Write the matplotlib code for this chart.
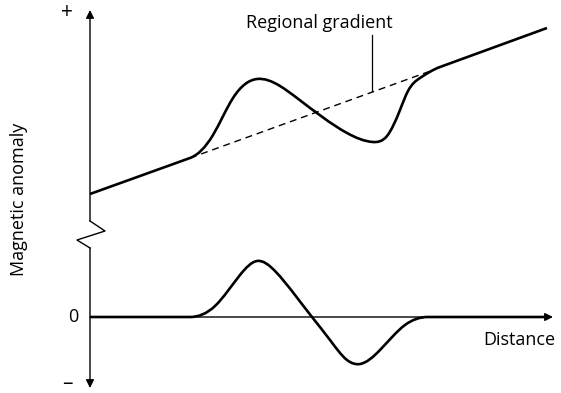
import numpy as np
import matplotlib
matplotlib.use("Agg")
import matplotlib.pyplot as plt
from matplotlib.path import Path
from matplotlib.patches import PathPatch

plt.rcParams['font.family'] = ['Open Sans', 'DejaVu Sans']

# observed field: regional trend plus a local anomaly (distance, anomaly)
obs_x = [0, 100, 123, 143, 167, 190, 207, 257, 283, 297, 310, 318, 330, 350, 457]
obs_y = [123, 159, 182, 219, 238, 231, 219, 184, 175, 181, 207, 226, 239, 250, 289]

# regional gradient (dashed) under the anomaly
reg_x = [100, 346]
reg_y = [159, 248]

# residual anomaly after removing the regional gradient
res_x = [0, 100, 125, 150, 167, 185, 205, 222, 240, 257, 270, 290, 315, 338, 463]
res_y = [0, 0, 11, 42, 56, 46, 22, 0, -23, -43, -47, -33, -8, 0, 0]

# vertical axis with a break
axis_top = 307
axis_bottom = -71
brk_x = [0, 15, -13, 0]
brk_y = [96, 86, 77, 69]


def spline_path(xs, ys, m0, m1):
    """Straight lead-in/out, clamped cubic spline (as bezier) in between."""
    x = np.asarray(xs, float)[1:-1]
    y = np.asarray(ys, float)[1:-1]
    n = len(x)
    h = np.diff(x)
    d = np.diff(y) / h
    A = np.zeros((n, n))
    b = np.zeros(n)
    A[0, 0] = A[-1, -1] = 1
    b[0], b[-1] = m0, m1
    for k in range(1, n - 1):
        A[k, k - 1] = h[k]
        A[k, k] = 2 * (h[k - 1] + h[k])
        A[k, k + 1] = h[k - 1]
        b[k] = 3 * (h[k] * d[k - 1] + h[k - 1] * d[k])
    m = np.linalg.solve(A, b)
    verts = [(xs[0], ys[0]), (x[0], y[0])]
    codes = [Path.MOVETO, Path.LINETO]
    for k in range(n - 1):
        verts += [(x[k] + h[k] / 3, y[k] + m[k] * h[k] / 3),
                  (x[k + 1] - h[k] / 3, y[k + 1] - m[k + 1] * h[k] / 3),
                  (x[k + 1], y[k + 1])]
        codes += [Path.CURVE4] * 3
    verts.append((xs[-1], ys[-1]))
    codes.append(Path.LINETO)
    return Path(verts, codes)


fig = plt.figure(figsize=(5.61, 3.93), dpi=100)
ax = fig.add_axes([0, 0, 1, 1])
ax.set_xlim(-90, 471)
ax.set_ylim(-76, 317)
ax.axis('off')

slope = (obs_y[-1] - obs_y[0]) / (obs_x[-1] - obs_x[0])

ax.add_patch(PathPatch(spline_path(obs_x, obs_y, slope, slope),
                       fill=False, lw=1.9, color='black',
                       joinstyle='round', capstyle='butt'))
ax.plot(reg_x, reg_y, color='black', lw=1.0, dashes=(5, 3.5))

# zero line with arrow
ax.annotate('', xy=(res_x[-1], 0), xytext=(0, 0),
            arrowprops=dict(arrowstyle='-|>', color='black', lw=1.0,
                            mutation_scale=12, shrinkA=0, shrinkB=0))
ax.add_patch(PathPatch(spline_path(res_x[:-1] + [res_x[-1] - 6], res_y, 0, 0),
                       fill=False, lw=1.9, color='black',
                       joinstyle='round', capstyle='butt'))

# broken vertical axis
ax.annotate('', xy=(0, axis_top), xytext=(0, brk_y[0]),
            arrowprops=dict(arrowstyle='-|>', color='black', lw=1.0,
                            mutation_scale=12, shrinkA=0, shrinkB=0))
ax.plot(brk_x, brk_y, color='black', lw=1.0)
ax.annotate('', xy=(0, axis_bottom), xytext=(0, brk_y[-1]),
            arrowprops=dict(arrowstyle='-|>', color='black', lw=1.0,
                            mutation_scale=12, shrinkA=0, shrinkB=0))

# leader for the regional gradient label
ax.plot([282, 282], [282, 226], color='black', lw=0.9)

fs = 13
ax.text(229, 294, 'Regional gradient', ha='center', va='center', fontsize=fs)
ax.text(465, -23, 'Distance', ha='right', va='center', fontsize=fs)
ax.text(-71, 118, 'Magnetic anomaly', ha='center', va='center',
        rotation=90, fontsize=fs)
ax.text(-17, 0, '0', ha='center', va='center', fontsize=fs)
ax.text(-23, 305, '+', ha='center', va='center', fontsize=15)
ax.text(-23, -66, '\u2013', ha='center', va='center', fontsize=15)

fig.savefig('out.png', dpi=100)
